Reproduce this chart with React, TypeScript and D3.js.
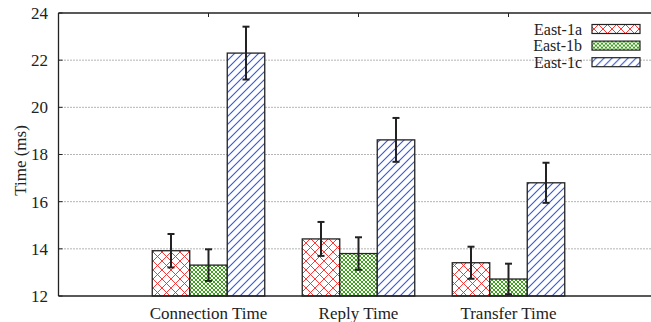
import React from 'react'
import { scaleLinear } from 'd3'

// Data
const categories = ['Connection Time', 'Reply Time', 'Transfer Time']
const seriesNames = ['East-1a', 'East-1b', 'East-1c']
const east1a = [13.92, 14.42, 13.41]
const east1b = [13.31, 13.8, 12.72]
const east1c = [22.3, 18.62, 16.8]
const err1a = [0.71, 0.72, 0.68]
const err1b = [0.67, 0.69, 0.65]
const err1c = [1.12, 0.93, 0.85]
const yTicks = [12, 14, 16, 18, 20, 22, 24]

const series = [
    { name: seriesNames[0], values: east1a, errors: err1a, fill: 'url(#hatchRed)' },
    { name: seriesNames[1], values: east1b, errors: err1b, fill: 'url(#hatchGreen)' },
    { name: seriesNames[2], values: east1c, errors: err1c, fill: 'url(#hatchBlue)' },
]

const W = 651
const H = 322
const left = 58.5
const top = 13
const bottom = 296
const serifFont = "'Liberation Serif', 'Times New Roman', Times, serif"

const App = () => {
    // categories sit at 0,1,2 ; axis runs from -1 to 3 (right side cut off)
    const x = scaleLinear().domain([-1, 3]).range([left, left + 600])
    const y = scaleLinear().domain([12, 24]).range([bottom, top])
    const barW = x(0.25) - x(0)

    return (
        <svg width={W} height={H} style={{ position: 'absolute', left: 0, top: 0, fontFamily: serifFont }}
            fontSize="17">
            <defs>
                <pattern id="hatchRed" width="9" height="9" patternUnits="userSpaceOnUse">
                    <rect width="9" height="9" fill="#ffffff" />
                    <path d="M0,0 L9,9 M0,9 L9,0" stroke="#ff2020" strokeWidth="0.9" />
                </pattern>
                <pattern id="hatchGreen" width="4" height="4" patternUnits="userSpaceOnUse">
                    <rect width="4" height="4" fill="#ffffff" />
                    <path d="M0,0 L4,4 M0,4 L4,0" stroke="#3ea21c" strokeWidth="1" />
                </pattern>
                <pattern id="hatchBlue" width="8" height="8" patternUnits="userSpaceOnUse">
                    <rect width="8" height="8" fill="#ffffff" />
                    <line x1="0" y1="8" x2="8" y2="0" stroke="#3355dd" strokeWidth="1.1" />
                    <line x1="-1" y1="1" x2="1" y2="-1" stroke="#3355dd" strokeWidth="1.1" />
                    <line x1="7" y1="9" x2="9" y2="7" stroke="#3355dd" strokeWidth="1.1" />
                </pattern>
            </defs>

            {/* grid */}
            {yTicks.filter(t => t > 12 && t < 24).map(t => (
                <line key={t} x1={left} x2={W} y1={y(t)} y2={y(t)}
                    stroke="#444" strokeWidth="0.8" strokeDasharray="1,2" />
            ))}

            {/* bars */}
            {series.map((s, si) =>
                categories.map((c, ci) => {
                    const bx = x(ci + (si - 1.5) * 0.25)
                    return (
                        <rect key={si + '-' + ci} x={bx} y={y(s.values[ci])}
                            width={barW} height={y(12) - y(s.values[ci])}
                            fill={s.fill} stroke="#222" strokeWidth="1.3" />
                    )
                })
            )}

            {/* error bars */}
            {series.map((s, si) =>
                categories.map((c, ci) => {
                    const cx = x(ci + (si - 1) * 0.25)
                    const y1 = y(s.values[ci] + s.errors[ci])
                    const y2 = y(s.values[ci] - s.errors[ci])
                    return (
                        <g key={'e' + si + '-' + ci} stroke="#222" strokeWidth="2">
                            <line x1={cx} x2={cx} y1={y1} y2={y2} />
                            <line x1={cx - 3.5} x2={cx + 3.5} y1={y1} y2={y1} />
                            <line x1={cx - 3.5} x2={cx + 3.5} y1={y2} y2={y2} />
                        </g>
                    )
                })
            )}

            {/* frame */}
            <line x1={left} x2={W} y1={top} y2={top} stroke="#222" strokeWidth="1.3" />
            <line x1={left} x2={W} y1={bottom} y2={bottom} stroke="#222" strokeWidth="1.3" />
            <line x1={left} x2={left} y1={top} y2={bottom} stroke="#222" strokeWidth="1.3" />
            {categories.map((c, ci) => (
                <line key={'tt' + ci} x1={x(ci)} x2={x(ci)} y1={top} y2={top + 4} stroke="#222" strokeWidth="1" />
            ))}
            {yTicks.map(t => (
                <line key={'yt' + t} x1={left} x2={left + 4} y1={y(t)} y2={y(t)} stroke="#222" strokeWidth="1" />
            ))}

            {/* y tick labels */}
            {yTicks.map(t => (
                <text key={'yl' + t} x={48} y={y(t)} dy="0.35em" textAnchor="end" fill="#222">{t}</text>
            ))}

            {/* category labels */}
            {categories.map((c, ci) => (
                <text key={'cl' + ci} x={x(ci)} y={319} textAnchor="middle" fill="#222">{c}</text>
            ))}

            {/* y axis title */}
            <text transform={`translate(26,${(top + bottom) / 2 + 6}) rotate(-90)`} textAnchor="middle"
                fill="#222">Time (ms)</text>

            {/* legend */}
            {series.map((s, si) => (
                <g key={'lg' + si} transform={`translate(0,${29 + si * 16.6})`}>
                    <text x={582} y={0} dy="0.35em" textAnchor="end" fontSize="16" fill="#222">{s.name}</text>
                    <rect x={592} y={-4.5} width={48} height={9} fill={s.fill} stroke="#222" strokeWidth="1.2" />
                </g>
            ))}
        </svg>
    )
}

export default App
